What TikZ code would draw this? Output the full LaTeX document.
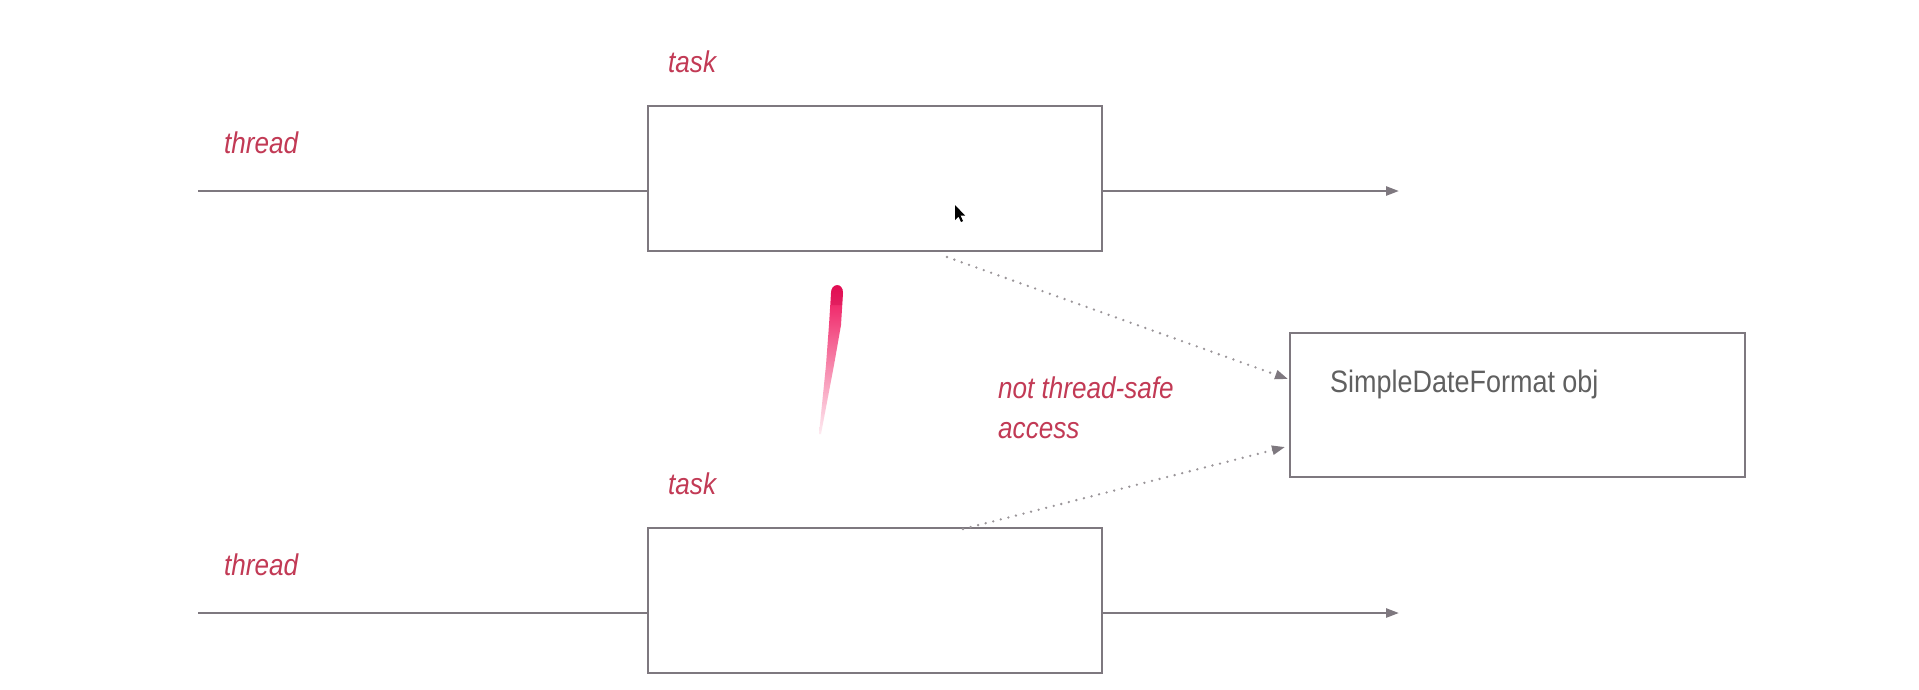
\documentclass[tikz,border=0pt]{standalone}
\usepackage{fontspec}
\setmainfont{Liberation Sans}[FakeStretch=0.87]
\usetikzlibrary{arrows.meta}
\definecolor{linegray}{HTML}{7E787F}
\definecolor{dotgray}{HTML}{9A9599}
\definecolor{labred}{HTML}{C23A55}
\definecolor{objgray}{HTML}{606060}
\definecolor{brushred}{HTML}{EE0A55}
\tikzset{
  taskbox/.style={draw=linegray, line width=2.5pt, rectangle, inner sep=0pt, outer sep=0pt},
  threadline/.style={draw=linegray, line width=2.5pt},
  threadarrow/.style={draw=linegray, line width=2.5pt, -{Triangle[length=13pt,width=9pt]}},
  accessline/.style={draw=dotgray, line width=2.6pt, line cap=round, dash pattern=on 0pt off 7.8pt,
     -{Triangle[length=13pt,width=9pt,line cap=butt,fill=linegray,color=linegray]}},
  redlabel/.style={text=labred, font=\fontsize{30}{36}\selectfont\itshape, inner sep=0pt, anchor=base west},
  objlabel/.style={text=objgray, font=\fontsize{31}{36}\selectfont, inner sep=0pt, anchor=base west}
}
\begin{document}
\begin{tikzpicture}[x=1pt,y=-1pt]
\useasboundingbox[fill=white] (0,0) rectangle (1919,689);

% boxes
\node[taskbox, minimum width=454pt, minimum height=145pt] (t1) at (875,178.5) {};
\node[taskbox, minimum width=454pt, minimum height=145pt] (t2) at (875,600.5) {};
\node[taskbox, minimum width=455pt, minimum height=144pt] (obj) at (1517.5,405) {};

% labels
\node[redlabel] (th1) at (224,153) {thread};
\node[redlabel] (ta1) at (668,72) {task};
\node[redlabel] (th2) at (224,575) {thread};
\node[redlabel] (ta2) at (668,494) {task};
\node[redlabel] (n1) at (998,398) {not thread-safe};
\node[redlabel] (n2) at (998,438) {access};
\node[objlabel] (sdf) at (1330,392) {SimpleDateFormat obj};

% thread lines
\coordinate (s1) at (198,191);
\coordinate (e1) at (1399,191);
\coordinate (s2) at (198,613);
\coordinate (e2) at (1399,613);
\draw[threadline] (s1) -- (s1 -| t1.west);
\draw[threadarrow] (s1 -| t1.east) -- (e1);
\draw[threadline] (s2) -- (s2 -| t2.west);
\draw[threadarrow] (s2 -| t2.east) -- (e2);

% access lines
\draw[accessline] ([xshift=72pt,yshift=-6pt]t1.south) -- ([xshift=-2pt,yshift=26pt]obj.west);
\draw[accessline] ([xshift=88pt,yshift=-1pt]t2.north) -- ([xshift=-5pt,yshift=-42pt]obj.west);

% brush stroke
\shade[top color=brushred, bottom color=brushred!8, draw=none]
  (831,293) .. controls (831,283) and (843,282) .. (843,293)
  -- (841,325) -- (834,365) -- (821,434) -- (819,434) -- (826,365) -- (829,325) -- cycle;
\fill[brushred!85!black, opacity=0.35] (831,293) .. controls (831,283) and (843,282) .. (843,293)
  -- (842,305) -- (831,305) -- cycle;

% mouse cursor
\fill[black] (955,205) -- (955,220) -- (958.5,216.5) -- (961,222) -- (963,221) -- (960.5,215.5) -- (965,215.5) -- cycle;
\end{tikzpicture}
\end{document}
